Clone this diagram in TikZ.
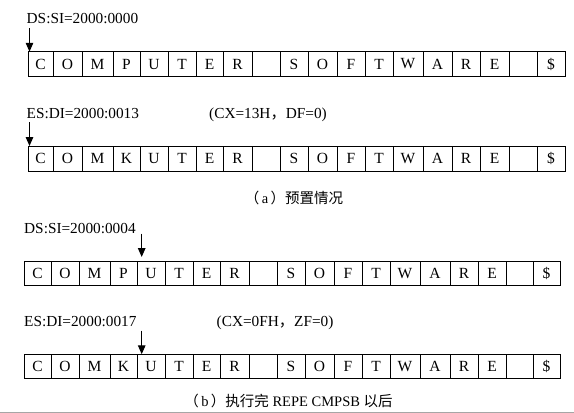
\documentclass[tikz,border=0pt]{standalone}
\usepackage{fontspec}
\setmainfont{Liberation Serif}
\newfontfamily\cjk{Noto Sans CJK SC}
\usetikzlibrary{arrows.meta}
\begin{document}
\begin{tikzpicture}[x=1pt,y=-1pt,
  cellbox/.style={draw=black,line width=0.9pt,inner sep=0pt,outer sep=0pt,
    font=\fontsize{15.5}{18}\selectfont},
  lbl/.style={inner sep=0pt,anchor=base west,font=\fontsize{15.3}{18}\selectfont},
  captext/.style={inner sep=0pt,anchor=base,font=\fontsize{14.5}{17}\selectfont},
  ptr/.style={line width=1.3pt,-{Triangle[length=9pt,width=7.5pt]}}]
\useasboundingbox (0,0) rectangle (574,413);
\def\rowtop{28/53/C,53/82/O,82/113/M,113/140/P,140/168/U,168/196/T,196/223/E,223/252/R,252/280/{},280/308/S,308/337/O,337/365/F,365/393/T,393/423/W,423/452/A,452/480/R,480/509/E,509/537/{},537/565/\$}
\def\rowtopK{28/53/C,53/82/O,82/113/M,113/140/K,140/168/U,168/196/T,196/223/E,223/252/R,252/280/{},280/308/S,308/337/O,337/365/F,365/393/T,393/423/W,423/452/A,452/480/R,480/509/E,509/537/{},537/565/\$}
\def\rowbot{24/51/C,51/79/O,79/110/M,110/137/P,137/165/U,165/193/T,193/220/E,220/249/R,249/277/{},277/305/S,305/334/O,334/362/F,362/390/T,390/420/W,420/450/A,450/478/R,478/506/E,506/533/{},533/560/\$}
\def\rowbotK{24/51/C,51/79/O,79/110/M,110/137/K,137/165/U,165/193/T,193/220/E,220/249/R,249/277/{},277/305/S,305/334/O,334/362/F,362/390/T,390/420/W,420/450/A,450/478/R,478/506/E,506/533/{},533/560/\$}
% row 1
\foreach \xa/\xb/\ch [count=\i] in \rowtop
  \node[cellbox,minimum width={(\xb-\xa)*1pt},minimum height=24.5pt]
    (a\i) at ({(\xa+\xb)/2},64) {\ch};
% row 2
\foreach \xa/\xb/\ch [count=\i] in \rowtopK
  \node[cellbox,minimum width={(\xb-\xa)*1pt},minimum height=25pt]
    (b\i) at ({(\xa+\xb)/2},158.5) {\ch};
% row 3
\foreach \xa/\xb/\ch [count=\i] in \rowbot
  \node[cellbox,minimum width={(\xb-\xa)*1pt},minimum height=23.5pt]
    (c\i) at ({(\xa+\xb)/2},273.5) {\ch};
% row 4
\foreach \xa/\xb/\ch [count=\i] in \rowbotK
  \node[cellbox,minimum width={(\xb-\xa)*1pt},minimum height=24.5pt]
    (d\i) at ({(\xa+\xb)/2},366.5) {\ch};
% labels
\node[lbl] (la) at (26.5,23) {DS:SI=2000:0000};
\node[lbl] (lb) at (26.5,118) {ES:DI=2000:0013};
\node[lbl] (lbx) at (209,118) {(CX=13H{\cjk ，}DF=0)};
\node[lbl] (lc) at (24,233) {DS:SI=2000:0004};
\node[lbl] (ld) at (24,326) {ES:DI=2000:0017};
\node[lbl] (ldx) at (216.5,326) {(CX=0FH{\cjk ，}ZF=0)};
% captions
\node[captext] (capa) at (294,203) {{\cjk （}\,a\,{\cjk ）预置情况}};
\node[captext] (capb) at (288.5,406) {{\cjk （}\,b\,{\cjk ）执行完} REPE CMPSB {\cjk 以后}};
% pointers
\coordinate (pa) at (29.5,28);
\coordinate (pb) at (29.5,122);
\coordinate (pc) at (141.7,233.5);
\coordinate (pcend) at (141.7,257);
\coordinate (pd) at (141.7,330.5);
\draw[ptr] (pa) -- (pa |- a1.north);
\draw[ptr] (pb) -- (pb |- b1.north);
\draw[ptr] (pc) -- (pcend);
\draw[ptr] (pd) -- (pd |- d5.north);
% bottom edge line
\draw[gray!70,line width=1pt] (0,412.5) -- (574,412.5);
\end{tikzpicture}
\end{document}
